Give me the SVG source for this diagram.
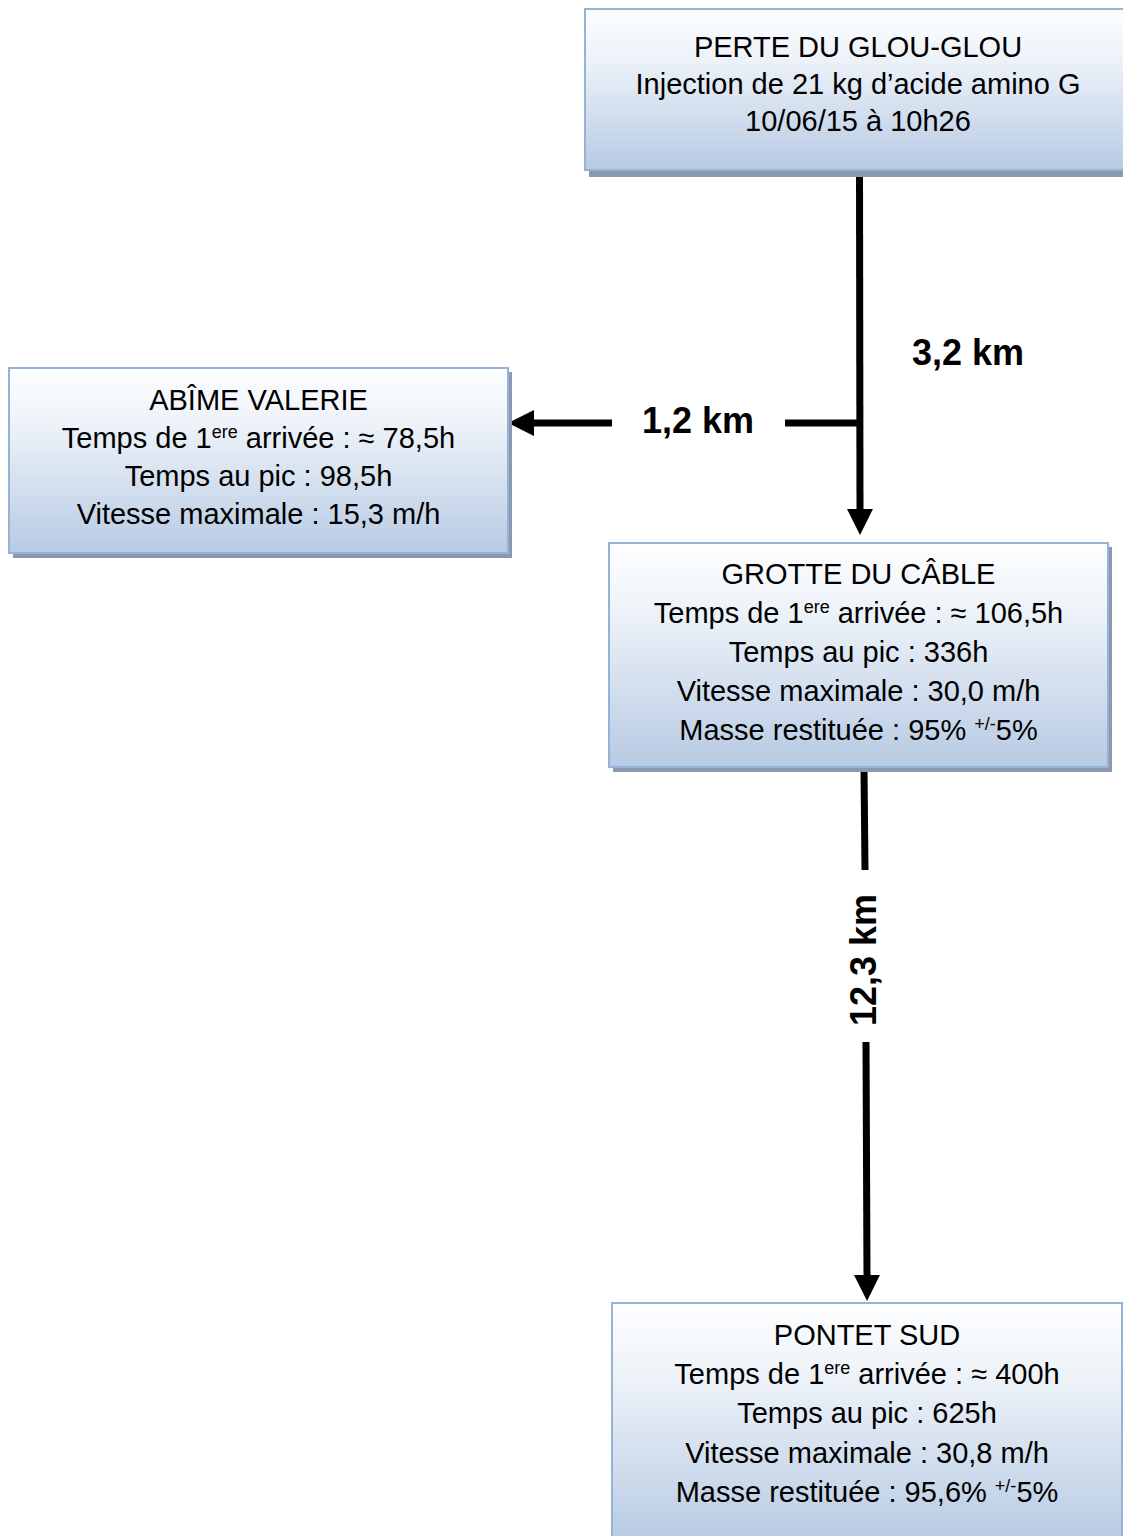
<svg xmlns="http://www.w3.org/2000/svg" width="1123" height="1536" viewBox="0 0 1123 1536">
<defs>
<linearGradient id="fill" x1="0" y1="0" x2="0" y2="1">
<stop offset="0" stop-color="#fdfeff"/>
<stop offset="0.3" stop-color="#eef3f9"/>
<stop offset="1" stop-color="#b7cae3"/>
</linearGradient>
<marker id="ah" markerUnits="userSpaceOnUse" markerWidth="26" markerHeight="26" viewBox="0 0 24 24" refX="1" refY="12" orient="auto">
<path d="M0,0 L24,12 L0,24 Z" fill="#000"/>
</marker>
</defs>
<style>
.shadow{fill:#8a99ae;}
.box{fill:url(#fill);stroke:#95b3d7;stroke-width:2;}
.t{font-family:"Liberation Sans",Arial,sans-serif;font-size:29px;fill:#000;text-anchor:middle;}
.sup{font-size:18px;}
.lbl{font-family:"Liberation Sans",Arial,sans-serif;font-size:36px;font-weight:bold;fill:#000;text-anchor:middle;}
.ln{stroke:#000;stroke-width:7;fill:none;}
</style>
<rect width="1123" height="1536" fill="#fff"/>

<g id="connectors">
<path class="ln" d="M859.5,171 L860,510" marker-end="url(#ah)"/>
<path class="ln" d="M862,423 L785,423"/>
<path class="ln" d="M612,423 L533,423" marker-end="url(#ah)"/>
<path class="ln" d="M864,768 L865,870"/>
<path class="ln" d="M866,1042 L867,1276" marker-end="url(#ah)"/>
<text class="lbl" x="968" y="365">3,2 km</text>
<text class="lbl" x="698" y="433">1,2 km</text>
<text class="lbl" transform="translate(876,960) rotate(-90)" x="0" y="0">12,3 km</text>
</g>

<g id="perte">
<rect class="shadow" x="589" y="13" width="546" height="164"/>
<rect class="box" x="585" y="9" width="546" height="161"/>
<text class="t" x="858" y="57">PERTE DU GLOU-GLOU</text>
<text class="t" x="858" y="94">Injection de 21 kg d’acide amino G</text>
<text class="t" x="858" y="131">10/06/15 à 10h26</text>
</g>

<g id="abime">
<rect class="shadow" x="13" y="372" width="499" height="186"/>
<rect class="box" x="9" y="368" width="499" height="185"/>
<text class="t" x="258.5" y="410">ABÎME VALERIE</text>
<text class="t" x="258.5" y="448">Temps de 1<tspan class="sup" dy="-10">ere</tspan><tspan dy="10"> arrivée : ≈ 78,5h</tspan></text>
<text class="t" x="258.5" y="486">Temps au pic : 98,5h</text>
<text class="t" x="258.5" y="524">Vitesse maximale : 15,3 m/h</text>
</g>

<g id="grotte">
<rect class="shadow" x="613" y="547" width="499" height="225"/>
<rect class="box" x="609" y="543" width="499" height="224"/>
<text class="t" x="858.5" y="584">GROTTE DU CÂBLE</text>
<text class="t" x="858.5" y="623">Temps de 1<tspan class="sup" dy="-10">ere</tspan><tspan dy="10"> arrivée : ≈ 106,5h</tspan></text>
<text class="t" x="858.5" y="662">Temps au pic : 336h</text>
<text class="t" x="858.5" y="701">Vitesse maximale : 30,0 m/h</text>
<text class="t" x="858.5" y="740">Masse restituée : 95% <tspan class="sup" dy="-10">+/-</tspan><tspan dy="10">5%</tspan></text>
</g>

<g id="pontet">
<rect class="shadow" x="616" y="1307" width="510" height="240"/>
<rect class="box" x="612" y="1303" width="510" height="240"/>
<text class="t" x="867" y="1345">PONTET SUD</text>
<text class="t" x="867" y="1384">Temps de 1<tspan class="sup" dy="-10">ere</tspan><tspan dy="10"> arrivée : ≈ 400h</tspan></text>
<text class="t" x="867" y="1423">Temps au pic : 625h</text>
<text class="t" x="867" y="1463">Vitesse maximale : 30,8 m/h</text>
<text class="t" x="867" y="1502">Masse restituée : 95,6% <tspan class="sup" dy="-10">+/-</tspan><tspan dy="10">5%</tspan></text>
</g>
</svg>
